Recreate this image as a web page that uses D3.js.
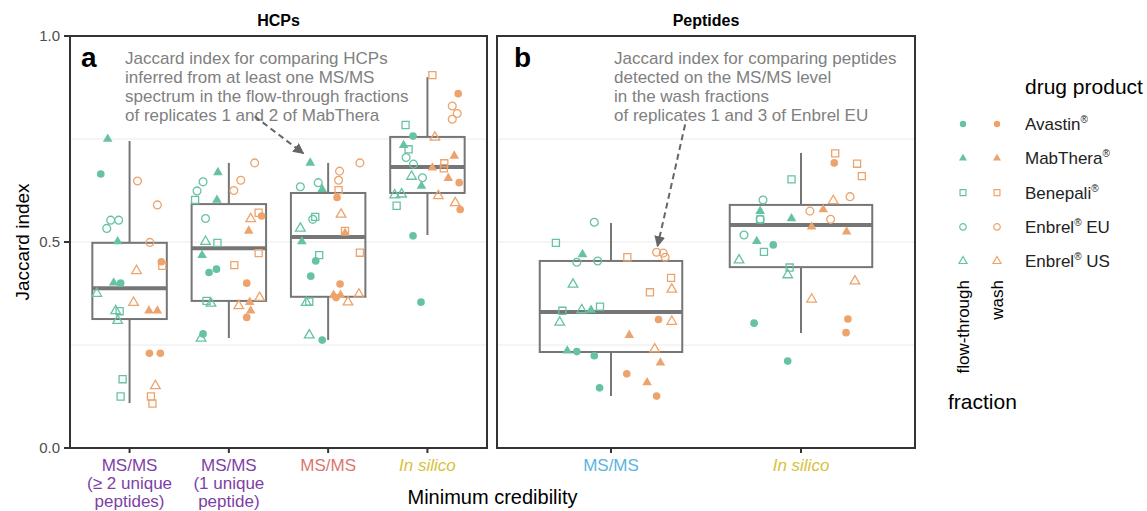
<!DOCTYPE html>
<html>
<head>
<meta charset="utf-8">
<script src="https://cdn.jsdelivr.net/npm/d3@7"></script>
<style>
  body { margin: 0; background: #fff; }
  text { font-family: "Liberation Sans", Arial, sans-serif; }
</style>
</head>
<body>
<svg id="chart" width="1147" height="511"></svg>
<script>
// categories and tick labels
var hcpCategories = ["MS/MS (>=2)", "MS/MS (1)", "MS/MS", "In silico"];
var hcpTickLabels = [["MS/MS", "(\u2265 2 unique", "peptides)"], ["MS/MS", "(1 unique", "peptide)"], ["MS/MS"], ["In silico"]];
var pepCategories = ["MS/MS", "In silico"];
var pepTickLabels = [["MS/MS"], ["In silico"]];
var yTicks = [0, 0.5, 1];
var yGrid = [0.25, 0.5, 0.75];

var products = ["Avastin", "MabThera", "Benepali", "Enbrel EU", "Enbrel US"];
var productCodes = ["A", "M", "B", "EU", "US"];
var fractions = ["flow-through", "wash"];

// box stats: [lower whisker, q1, median, q3, upper whisker]
var hcpBoxes = [
    [0.109, 0.313, 0.388, 0.498, 0.745],
    [0.267, 0.357, 0.485, 0.592, 0.692],
    [0.262, 0.367, 0.512, 0.619, 0.692],
    [0.517, 0.619, 0.682, 0.755, 0.900]
];
var pepBoxes = [
    [0.126, 0.233, 0.330, 0.454, 0.546],
    [0.279, 0.439, 0.541, 0.590, 0.716]
];

// points: [product, fraction (f / w), jaccard, jitter in category units]
var hcpMS2 = [
    ["M","f",0.750,-0.22], ["A","f",0.665,-0.29], ["EU","f",0.553,-0.19], ["EU","f",0.553,-0.11],
    ["EU","f",0.533,-0.23], ["M","f",0.501,-0.12], ["M","f",0.401,-0.16], ["A","f",0.400,-0.09],
    ["US","f",0.375,-0.33], ["US","f",0.333,-0.14], ["B","f",0.332,-0.10], ["US","f",0.309,-0.12],
    ["B","f",0.167,-0.07], ["B","f",0.125,-0.09],
    ["EU","w",0.648,0.08], ["EU","w",0.590,0.28], ["EU","w",0.499,0.205], ["A","w",0.452,0.32],
    ["B","w",0.442,0.33], ["US","w",0.430,0.07], ["US","w",0.353,0.04], ["M","w",0.333,0.195],
    ["M","w",0.333,0.28], ["A","w",0.230,0.20], ["A","w",0.230,0.31], ["US","w",0.151,0.26],
    ["B","w",0.125,0.215], ["B","w",0.108,0.23]
];
var hcpMS1 = [
    ["M","f",0.669,-0.11], ["EU","f",0.646,-0.26], ["EU","f",0.624,-0.32], ["B","f",0.602,-0.34],
    ["M","f",0.602,-0.12], ["EU","f",0.557,-0.235], ["US","f",0.501,-0.235], ["B","f",0.498,-0.115],
    ["M","f",0.468,-0.27], ["A","f",0.426,-0.20], ["A","f",0.434,-0.125], ["B","f",0.357,-0.225],
    ["US","f",0.351,-0.18], ["A","f",0.277,-0.26], ["US","f",0.266,-0.28],
    ["EU","w",0.692,0.26], ["EU","w",0.650,0.12], ["EU","w",0.625,0.05], ["B","w",0.571,0.30],
    ["A","w",0.563,0.33], ["US","w",0.556,0.22], ["M","w",0.527,0.20], ["B","w",0.473,0.30],
    ["B","w",0.444,0.055], ["A","w",0.400,0.18], ["US","w",0.365,0.31], ["US","w",0.345,0.10],
    ["M","w",0.354,0.21], ["M","w",0.333,0.22], ["A","w",0.317,0.18]
];
var hcpMS = [
    ["M","f",0.692,-0.18], ["EU","f",0.634,-0.28], ["EU","f",0.644,-0.10], ["M","f",0.628,-0.06],
    ["B","f",0.561,-0.13], ["EU","f",0.555,-0.155], ["US","f",0.533,-0.28], ["M","f",0.501,-0.265],
    ["B","f",0.468,-0.09], ["A","f",0.454,-0.125], ["A","f",0.417,-0.175], ["US","f",0.353,-0.22],
    ["B","f",0.355,-0.19], ["US","f",0.274,-0.19], ["A","f",0.262,-0.06],
    ["EU","w",0.692,0.32], ["EU","w",0.672,0.115], ["EU","w",0.650,0.105], ["B","w",0.626,0.105],
    ["A","w",0.608,0.09], ["US","w",0.567,0.13], ["B","w",0.527,0.17], ["M","w",0.522,0.17],
    ["B","w",0.474,0.32], ["A","w",0.398,0.12], ["M","w",0.371,0.055], ["M","w",0.371,0.125],
    ["A","w",0.365,0.08], ["US","w",0.354,0.20], ["US","w",0.373,0.31]
];
var hcpInSilico = [
    ["B","f",0.784,-0.22], ["A","f",0.757,-0.145], ["M","f",0.735,-0.24], ["B","f",0.725,-0.19],
    ["EU","f",0.705,-0.215], ["EU","f",0.689,-0.14], ["US","f",0.659,-0.16], ["EU","f",0.656,-0.05],
    ["M","f",0.636,-0.06], ["US","f",0.614,-0.33], ["US","f",0.616,-0.26], ["B","f",0.588,-0.31],
    ["A","f",0.515,-0.145], ["A","f",0.354,-0.065],
    ["B","w",0.905,0.05], ["A","w",0.860,0.31], ["EU","w",0.830,0.25], ["EU","w",0.812,0.30],
    ["EU","w",0.798,0.25], ["US","w",0.754,0.075], ["M","w",0.709,0.27], ["B","w",0.691,0.17],
    ["B","w",0.679,0.165], ["M","w",0.680,0.05], ["M","w",0.655,0.21], ["A","w",0.644,0.32],
    ["US","w",0.612,0.11], ["US","w",0.595,0.28], ["A","w",0.579,0.33]
];
var pepMS = [
    ["EU","f",0.548,-0.088], ["B","f",0.498,-0.29], ["M","f",0.470,-0.15], ["EU","f",0.451,-0.18],
    ["EU","f",0.454,-0.07], ["US","f",0.397,-0.20], ["B","f",0.333,-0.256], ["US","f",0.335,-0.154],
    ["M","f",0.335,-0.105], ["B","f",0.343,-0.058], ["US","f",0.305,-0.27], ["M","f",0.236,-0.23],
    ["A","f",0.234,-0.18], ["A","f",0.224,-0.088], ["A","f",0.146,-0.06],
    ["EU","w",0.475,0.24], ["EU","w",0.473,0.275], ["EU","w",0.463,0.285], ["B","w",0.463,0.086],
    ["B","w",0.413,0.316], ["B","w",0.378,0.205], ["US","w",0.385,0.32], ["US","w",0.307,0.32],
    ["US","w",0.240,0.23], ["A","w",0.312,0.25], ["A","w",0.180,0.083], ["A","w",0.126,0.24],
    ["M","w",0.274,0.096], ["M","w",0.207,0.26], ["M","w",0.159,0.19]
];
var pepInSilico = [
    ["B","f",0.652,-0.05], ["EU","f",0.602,-0.20], ["M","f",0.575,-0.215], ["B","f",0.555,-0.215],
    ["EU","f",0.555,-0.215], ["M","f",0.557,-0.05], ["EU","f",0.517,-0.30], ["M","f",0.502,-0.233],
    ["A","f",0.493,-0.146], ["B","f",0.476,-0.195], ["US","f",0.456,-0.326], ["B","f",0.438,-0.06],
    ["US","f",0.420,-0.07], ["A","f",0.303,-0.247], ["A","f",0.211,-0.07],
    ["B","w",0.715,0.18], ["B","w",0.690,0.295], ["B","w",0.660,0.32], ["A","w",0.692,0.175],
    ["US","w",0.600,0.17], ["US","w",0.405,0.284], ["US","w",0.361,0.056], ["EU","w",0.610,0.258],
    ["EU","w",0.575,0.047], ["EU","w",0.555,0.156], ["M","w",0.579,0.117], ["M","w",0.537,0.056],
    ["M","w",0.525,0.24], ["A","w",0.313,0.247], ["A","w",0.280,0.237]
];

// styling
var fractionColor = { f: "#66c2a5", w: "#eda46c" };
var hcpTickColors = ["#7e3fa6", "#7e3fa6", "#d9776f", "#d8c23a"];
var pepTickColors = ["#5cb4e0", "#d8c23a"];
var shapes = {
    A:  { type: d3.symbolCircle, size: 46, filled: true },
    M:  { type: d3.symbolTriangle, size: 40, filled: true },
    B:  { type: d3.symbolSquare, size: 50, filled: false },
    EU: { type: d3.symbolCircle, size: 48, filled: false },
    US: { type: d3.symbolTriangle, size: 40, filled: false }
};

var plotTop = 36, plotBottom = 448;
var y = d3.scaleLinear().domain([0, 1]).range([plotBottom, plotTop]);

var svg = d3.select("#chart");

svg.append("defs").append("marker")
    .attr("id", "arrowhead")
    .attr("viewBox", "0 0 10 10")
    .attr("refX", 9).attr("refY", 5)
    .attr("markerWidth", 5.5).attr("markerHeight", 5.5)
    .attr("markerUnits", "strokeWidth")
    .attr("orient", "auto")
    .append("path")
    .attr("d", "M0,0 L10,5 L0,10 z")
    .attr("fill", "#666");

function drawPanel(opts) {
    var x = d3.scalePoint().domain(opts.categories).range([opts.x0, opts.x1]).padding(0.6);
    var step = x.step();
    var g = svg.append("g");

    // grid
    g.selectAll(".grid").data(yGrid).enter().append("line")
        .attr("x1", opts.x0).attr("x2", opts.x1)
        .attr("y1", d => y(d)).attr("y2", d => y(d))
        .attr("stroke", "#ebebeb").attr("stroke-width", 1.2);

    // strip title
    svg.append("text")
        .attr("x", (opts.x0 + opts.x1) / 2).attr("y", 26)
        .attr("text-anchor", "middle")
        .attr("font-size", 16).attr("font-weight", "bold")
        .text(opts.title);

    // boxes
    var bw = step * 0.75;
    opts.boxes.forEach(function (b, i) {
        var cx = x(opts.categories[i]);
        var bg = g.append("g").attr("stroke", "#767676").attr("fill", "none");
        bg.append("line").attr("x1", cx).attr("x2", cx).attr("y1", y(b[0])).attr("y2", y(b[1])).attr("stroke-width", 2);
        bg.append("line").attr("x1", cx).attr("x2", cx).attr("y1", y(b[3])).attr("y2", y(b[4])).attr("stroke-width", 2);
        bg.append("rect").attr("x", cx - bw / 2).attr("width", bw)
            .attr("y", y(b[3])).attr("height", y(b[1]) - y(b[3])).attr("stroke-width", 2);
        bg.append("line").attr("x1", cx - bw / 2).attr("x2", cx + bw / 2)
            .attr("y1", y(b[2])).attr("y2", y(b[2])).attr("stroke-width", 4);
    });

    // points
    opts.points.forEach(function (pts, i) {
        var cx = x(opts.categories[i]);
        g.selectAll(null).data(pts).enter().append("path")
            .attr("d", d => d3.symbol().type(shapes[d[0]].type).size(shapes[d[0]].size)())
            .attr("transform", d => "translate(" + (cx + d[3] * step) + "," + y(d[2]) + ")")
            .attr("fill", d => shapes[d[0]].filled ? fractionColor[d[1]] : "none")
            .attr("stroke", d => shapes[d[0]].filled ? "none" : fractionColor[d[1]])
            .attr("stroke-width", 1.3);
    });

    // border
    g.append("rect").attr("x", opts.x0).attr("y", plotTop)
        .attr("width", opts.x1 - opts.x0).attr("height", plotBottom - plotTop)
        .attr("fill", "none").attr("stroke", "#333").attr("stroke-width", 2);

    // x ticks
    opts.categories.forEach(function (c, i) {
        var cx = x(c);
        g.append("line").attr("x1", cx).attr("x2", cx).attr("y1", plotBottom).attr("y2", plotBottom + 5)
            .attr("stroke", "#333").attr("stroke-width", 2);
        var t = g.append("text").attr("text-anchor", "middle")
            .attr("font-size", 17).attr("fill", opts.tickColors[i])
            .attr("font-style", c === "In silico" ? "italic" : "normal");
        opts.tickLabels[i].forEach(function (line, j) {
            t.append("tspan").attr("x", cx).attr("y", 471 + j * 18).text(line);
        });
    });

    // panel letter
    g.append("text").attr("x", opts.x0 + opts.letterDx).attr("y", 67)
        .attr("font-size", 28).attr("font-weight", "bold").text(opts.letter);

    // note
    var note = g.append("text").attr("font-size", 17).attr("fill", "#808080");
    opts.note.forEach(function (line, j) {
        note.append("tspan").attr("x", opts.x0 + opts.noteDx).attr("y", 64 + j * 19).text(line);
    });

    // arrow (in data units)
    var a = opts.arrow;
    g.append("line")
        .attr("x1", x(opts.categories[a.cat]) + a.from[0] * step).attr("y1", y(a.from[1]))
        .attr("x2", x(opts.categories[a.cat]) + a.to[0] * step).attr("y2", y(a.to[1]))
        .attr("stroke", "#666").attr("stroke-width", 2)
        .attr("stroke-dasharray", "6,4")
        .attr("marker-end", "url(#arrowhead)");
}

drawPanel({
    x0: 70, x1: 487, title: "HCPs", letter: "a", letterDx: 11, noteDx: 55,
    categories: hcpCategories, tickLabels: hcpTickLabels, tickColors: hcpTickColors,
    boxes: hcpBoxes, points: [hcpMS2, hcpMS1, hcpMS, hcpInSilico],
    note: ["Jaccard index for comparing HCPs", "inferred from at least one MS/MS",
           "spectrum in the flow-through fractions", "of replicates 1 and 2 of MabThera"],
    arrow: { cat: 2, from: [-0.74, 0.805], to: [-0.25, 0.715] }
});

drawPanel({
    x0: 497, x1: 915, title: "Peptides", letter: "b", letterDx: 17, noteDx: 117,
    categories: pepCategories, tickLabels: pepTickLabels, tickColors: pepTickColors,
    boxes: pepBoxes, points: [pepMS, pepInSilico],
    note: ["Jaccard index for comparing peptides", "detected on the MS/MS level",
           "in the wash fractions", "of replicates 1 and 3 of Enbrel EU"],
    arrow: { cat: 0, from: [0.39, 0.785], to: [0.245, 0.49] }
});

// y axis
var ya = svg.append("g");
yTicks.forEach(function (t) {
    ya.append("line").attr("x1", 64).attr("x2", 70).attr("y1", y(t)).attr("y2", y(t))
        .attr("stroke", "#333").attr("stroke-width", 2);
    ya.append("text").attr("x", 60).attr("y", y(t) + 5).attr("text-anchor", "end")
        .attr("font-size", 15).attr("fill", "#4d4d4d").text(t.toFixed(1));
});
svg.append("text").attr("transform", "translate(29," + ((plotTop + plotBottom) / 2) + ") rotate(-90)")
    .attr("text-anchor", "middle").attr("font-size", 19).text("Jaccard index");
svg.append("text").attr("x", (70 + 915) / 2).attr("y", 504)
    .attr("text-anchor", "middle").attr("font-size", 20).text("Minimum credibility");

// legend
var lg = svg.append("g");
lg.append("text").attr("x", 1025).attr("y", 94).attr("font-size", 21).text("drug product");
products.forEach(function (p, i) {
    var code = productCodes[i];
    var ry = 124 + i * 34.3;
    ["f", "w"].forEach(function (f, j) {
        lg.append("path")
            .attr("d", d3.symbol().type(shapes[code].type).size(shapes[code].size * 0.7)())
            .attr("transform", "translate(" + (963 + j * 34) + "," + ry + ")")
            .attr("fill", shapes[code].filled ? fractionColor[f] : "none")
            .attr("stroke", shapes[code].filled ? "none" : fractionColor[f])
            .attr("stroke-width", 1.2);
    });
    var t = lg.append("text").attr("x", 1025).attr("y", ry + 6).attr("font-size", 17).attr("fill", "#222");
    var parts = p.split(" ");
    t.append("tspan").text(parts[0]);
    t.append("tspan").attr("font-size", 10).attr("dy", -7).text("\u00ae");
    if (parts[1]) t.append("tspan").attr("dy", 7).text(" " + parts[1]);
});
fractions.forEach(function (f, j) {
    lg.append("text")
        .attr("transform", "translate(" + (969 + j * 34) + ",280) rotate(-90)")
        .attr("text-anchor", "end").attr("font-size", 17).text(f);
});
lg.append("text").attr("x", 948).attr("y", 409).attr("font-size", 21).text("fraction");
</script>
</body>
</html>
